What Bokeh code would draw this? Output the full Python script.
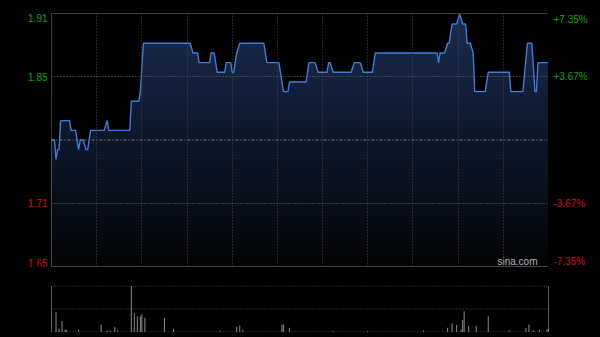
import numpy as np
from bokeh.plotting import figure
from bokeh.models import Range1d, Span, Grid, FixedTicker
from bokeh.core.properties import value
from bokeh.layouts import column, row
from bokeh.embed import file_html
from bokeh.resources import INLINE

# ---------------- data ----------------
prev_close = 1.78
pct_max = 7.35
pct_half = 3.67
price_labels = ["1.91", "1.85", "1.71", "1.65"]
pct_labels = ["+7.35%", "+3.67%", "-3.67%", "-7.35%"]

# minutes since 09:30 (lunch break removed, 330 trading minutes)
minutes = [0, 2, 3, 4, 5, 6, 12, 13, 16, 18, 19, 21, 23, 24, 26, 35, 37, 38, 52, 53,
           58, 59, 61, 92, 94, 97, 98, 105, 106, 108, 110, 115, 116, 119, 120, 121, 123, 125, 141, 143,
           151, 154, 157, 158, 169, 171, 175, 177, 183, 184, 185, 187, 199, 201, 205, 207, 213, 215, 256, 257,
           258, 261, 263, 264, 266, 269, 271, 273, 275, 276, 278, 280, 281, 288, 290, 304, 305, 313, 316, 319,
           321, 322, 323, 330]
prices = [1.78, 1.78, 1.76, 1.77, 1.77, 1.80, 1.80, 1.79, 1.79, 1.77, 1.78, 1.78, 1.77, 1.77, 1.79, 1.79, 1.80, 1.79, 1.79, 1.82,
          1.82, 1.83, 1.88, 1.88, 1.87, 1.87, 1.86, 1.86, 1.87, 1.87, 1.85, 1.85, 1.86, 1.86, 1.85, 1.85, 1.87, 1.88, 1.88, 1.86,
          1.86, 1.83, 1.83, 1.84, 1.84, 1.86, 1.86, 1.85, 1.85, 1.86, 1.86, 1.85, 1.85, 1.86, 1.86, 1.85, 1.85, 1.87, 1.87, 1.86,
          1.87, 1.87, 1.88, 1.88, 1.90, 1.90, 1.91, 1.90, 1.90, 1.88, 1.88, 1.87, 1.83, 1.83, 1.85, 1.85, 1.83, 1.83, 1.88, 1.88,
          1.83, 1.83, 1.86, 1.86]

vol_minutes = [3, 5, 7, 9, 10, 18, 33, 37, 39, 42, 44, 53, 55, 57, 59, 60, 62, 75, 81, 112,
               123, 125, 127, 153, 154, 158, 187, 210, 247, 263, 266, 269, 272, 273, 274, 277, 282, 290, 304, 315,
               317, 320, 324, 329, 330]
vol_values = [258, 42, 144, 30, 24, 30, 96, 18, 18, 66, 18, 600, 246, 204, 204, 234, 186, 186, 42, 18,
              66, 84, 30, 96, 96, 54, 12, 12, 18, 54, 114, 90, 30, 156, 270, 78, 78, 204, 18, 54,
              96, 18, 30, 36, 36]

session_minutes = 330
vline_minutes = [30 * i for i in range(1, 11)]

# ---------------- derived levels ----------------
ymax = prev_close * (1 + pct_max / 100)
ymin = prev_close * (1 - pct_max / 100)
y_hi = prev_close * (1 + pct_half / 100)
y_lo = prev_close * (1 - pct_half / 100)
levels = [ymax, y_hi, y_lo, ymin]

FONT = value("Liberation Sans")
GREEN = "#13a013"
RED = "#d01010"
label_colors = [GREEN, GREEN, RED, RED]
label_baselines = ["top", "middle", "middle", "bottom"]

TOP, BOTTOM = 13, 10
yr = Range1d(ymin, ymax)

common = dict(output_backend="svg", toolbar_location=None, title=None, x_axis_type=None, y_axis_type=None,
              background_fill_color="black", border_fill_color="black")

p = figure(width=497, height=276, x_range=Range1d(0, session_minutes), y_range=yr,
           min_border_left=0, min_border_right=0, min_border_top=TOP, min_border_bottom=BOTTOM,
           outline_line_color="#5e5e5e", outline_line_width=1, **common)

# vertical gradient fill under the price line
n = 256
t = np.linspace(0.0, 1.0, n)
img = np.empty((n, 1), dtype=np.uint32)
view = img.view(dtype=np.uint8).reshape((n, 1, 4))
view[:, 0, 0] = (3 + (26 - 3) * t).astype(np.uint8)
view[:, 0, 1] = (4 + (44 - 4) * t).astype(np.uint8)
view[:, 0, 2] = (7 + (80 - 7) * t).astype(np.uint8)
view[:, 0, 3] = 255
p.image_rgba(image=[img], x=0, y=ymin, dw=session_minutes, dh=ymax - ymin)
p.varea(x=minutes, y1=prices, y2=[ymax] * len(minutes), fill_color="black")

p.add_layout(Grid(dimension=0, ticker=FixedTicker(ticks=vline_minutes), grid_line_color="#4a4a4a",
                  grid_line_dash="1 2", level="overlay"))
p.add_layout(Grid(dimension=1, ticker=FixedTicker(ticks=[y_hi, y_lo]), grid_line_color="#666666",
                  grid_line_dash="1 2", level="overlay"))
p.add_layout(Span(location=prev_close, dimension="width", line_color="#7a7a7a", line_dash="3 2 1 2",
                  line_width=1))

p.line(minutes, prices, line_color="#3f7cd8", line_width=1.4)

p.text(x=[session_minutes], y=[ymin], text=["sina.com"], x_offset=-11, text_align="right",
       text_baseline="bottom", text_color="#b4b4b4", text_font=FONT, text_font_size="10px")

# side label panels sharing the price range
left = figure(width=51, height=276, x_range=Range1d(0, 51), y_range=yr,
              min_border_left=0, min_border_right=0, min_border_top=TOP, min_border_bottom=BOTTOM,
              outline_line_color=None, **common)
right = figure(width=52, height=276, x_range=Range1d(0, 52), y_range=yr,
               min_border_left=0, min_border_right=0, min_border_top=TOP, min_border_bottom=BOTTOM,
               outline_line_color=None, **common)
for lv, lab, plab, bl, col in zip(levels, price_labels, pct_labels, label_baselines, label_colors):
    left.text(x=[47], y=[lv], text=[lab], text_align="right", text_baseline=bl, text_color=col,
              text_font=FONT, text_font_size="10px")
    right.text(x=[5], y=[lv], text=[plab], text_align="left", text_baseline=bl, text_color=col,
               text_font=FONT, text_font_size="10px")

# ---------------- volume ----------------
vmax = max(vol_values)
pad = vmax / 47 * 0.6
v = figure(width=600, height=61, x_range=Range1d(-51 * session_minutes / 497, 549 * session_minutes / 497),
           y_range=Range1d(-pad, vmax + pad),
           min_border_left=0, min_border_right=0, min_border_top=9, min_border_bottom=5,
           outline_line_color=None, **common)
v.segment(x0=[0, session_minutes], y0=[0, 0], x1=[0, session_minutes], y1=[vmax, vmax],
          line_color="#606060", line_width=1)
v.segment(x0=[0, 0, 0], y0=[0, vmax / 2, vmax], x1=[session_minutes] * 3, y1=[0, vmax / 2, vmax],
          line_color="#5a5a5a", line_width=1, line_dash="1 2")
v.segment(x0=vol_minutes, y0=[0] * len(vol_minutes), x1=vol_minutes, y1=vol_values,
          line_color="#8c8c8c", line_width=1)

layout = column(row(left, p, right, spacing=0), v, spacing=0)
layout.styles = {"background-color": "black"}
open("out.html", "w").write(file_html(layout, INLINE))
